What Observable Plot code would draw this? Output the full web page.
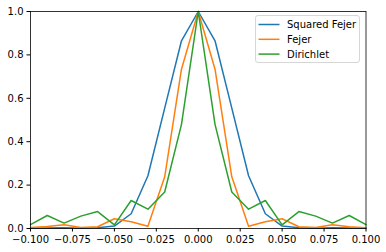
<!DOCTYPE html>
<html>
<head>
<meta charset="utf-8">
<script src="https://cdn.jsdelivr.net/npm/d3@7"></script>
<script src="https://cdn.jsdelivr.net/npm/@observablehq/plot@0.6"></script>
<style>
  html, body { margin: 0; padding: 0; background: #fff; }
  #chart { position: relative; width: 386px; height: 252px; }
  svg { font-family: "DejaVu Sans", sans-serif; }
</style>
</head>
<body>
<div id="chart"></div>
<script>
const xs = [-0.10, -0.09, -0.08, -0.07, -0.06, -0.05, -0.04, -0.03, -0.02, -0.01, 0.00,
             0.01,  0.02,  0.03,  0.04,  0.05,  0.06,  0.07,  0.08,  0.09,  0.10];
const squaredFejer = [0.001, 0.002, 0.003, 0.001, 0.003, 0.011, 0.068, 0.243, 0.555, 0.865, 1.0,
                      0.865, 0.555, 0.243, 0.068, 0.011, 0.003, 0.001, 0.003, 0.002, 0.001];
const fejer = [0.005, 0.009, 0.017, 0.005, 0.008, 0.045, 0.031, 0.010, 0.238, 0.734, 1.0,
               0.734, 0.238, 0.010, 0.031, 0.045, 0.008, 0.005, 0.017, 0.008, 0.004];
const dirichlet = [0.018, 0.060, 0.025, 0.057, 0.078, 0.017, 0.129, 0.089, 0.168, 0.480, 1.0,
                   0.480, 0.168, 0.089, 0.129, 0.017, 0.078, 0.057, 0.025, 0.060, 0.018];
const seriesNames = ["Squared Fejer", "Fejer", "Dirichlet"];
const seriesColors = ["#1f77b4", "#ff7f0e", "#2ca02c"];
const xTicks = [-0.1, -0.075, -0.05, -0.025, 0, 0.025, 0.05, 0.075, 0.1];
const yTicks = [0, 0.2, 0.4, 0.6, 0.8, 1.0];

const allSeries = [squaredFejer, fejer, dirichlet];
const data = [];
allSeries.forEach((vals, si) => {
  vals.forEach((v, i) => data.push({x: xs[i], y: v, s: seriesNames[si]}));
});

const plot = Plot.plot({
  width: 386,
  height: 252,
  marginLeft: 30,
  marginRight: 20.5,
  marginTop: 11,
  marginBottom: 24,
  style: {fontFamily: "DejaVu Sans, sans-serif", fontSize: "10px", color: "#000", background: "#fff"},
  x: {domain: [-0.1, 0.1]},
  y: {domain: [0, 1]},
  color: {domain: seriesNames, range: seriesColors},
  marks: [
    Plot.line(data, {x: "x", y: "y", z: "s", stroke: "s", strokeWidth: 1.5}),
    Plot.frame({stroke: "#000", strokeWidth: 0.8}),
    Plot.axisX({ticks: xTicks, tickFormat: d3.format(".3f"), tickSize: 3.5, tickPadding: 3.5, label: null, fontSize: 10}),
    Plot.axisY({ticks: yTicks, tickFormat: d3.format(".1f"), tickSize: 3.5, tickPadding: 3.5, label: null, fontSize: 10})
  ]
});
document.getElementById("chart").appendChild(plot);

// Legend (matplotlib-style box in upper right)
const svg = d3.select(plot);
const lg = svg.append("g")
  .attr("transform", "translate(255.5,15.5)")
  .attr("text-anchor", "start");
lg.append("rect").attr("x", 0).attr("y", 0).attr("width", 104).attr("height", 47).attr("rx", 2.5)
  .style("fill", "rgba(255,255,255,0.8)").style("stroke", "#cccccc").style("stroke-width", "0.8px");
seriesNames.forEach((name, i) => {
  const yy = 9 + i * 14.8;
  lg.append("line").attr("x1", 3).attr("x2", 24).attr("y1", yy).attr("y2", yy)
    .style("stroke", seriesColors[i]).style("stroke-width", "1.5px");
  lg.append("text").attr("x", 31.5).attr("y", yy).attr("dy", "0.35em")
    .attr("text-anchor", "start")
    .style("font-size", "10px").style("fill", "#000").text(name);
});
</script>
</body>
</html>
